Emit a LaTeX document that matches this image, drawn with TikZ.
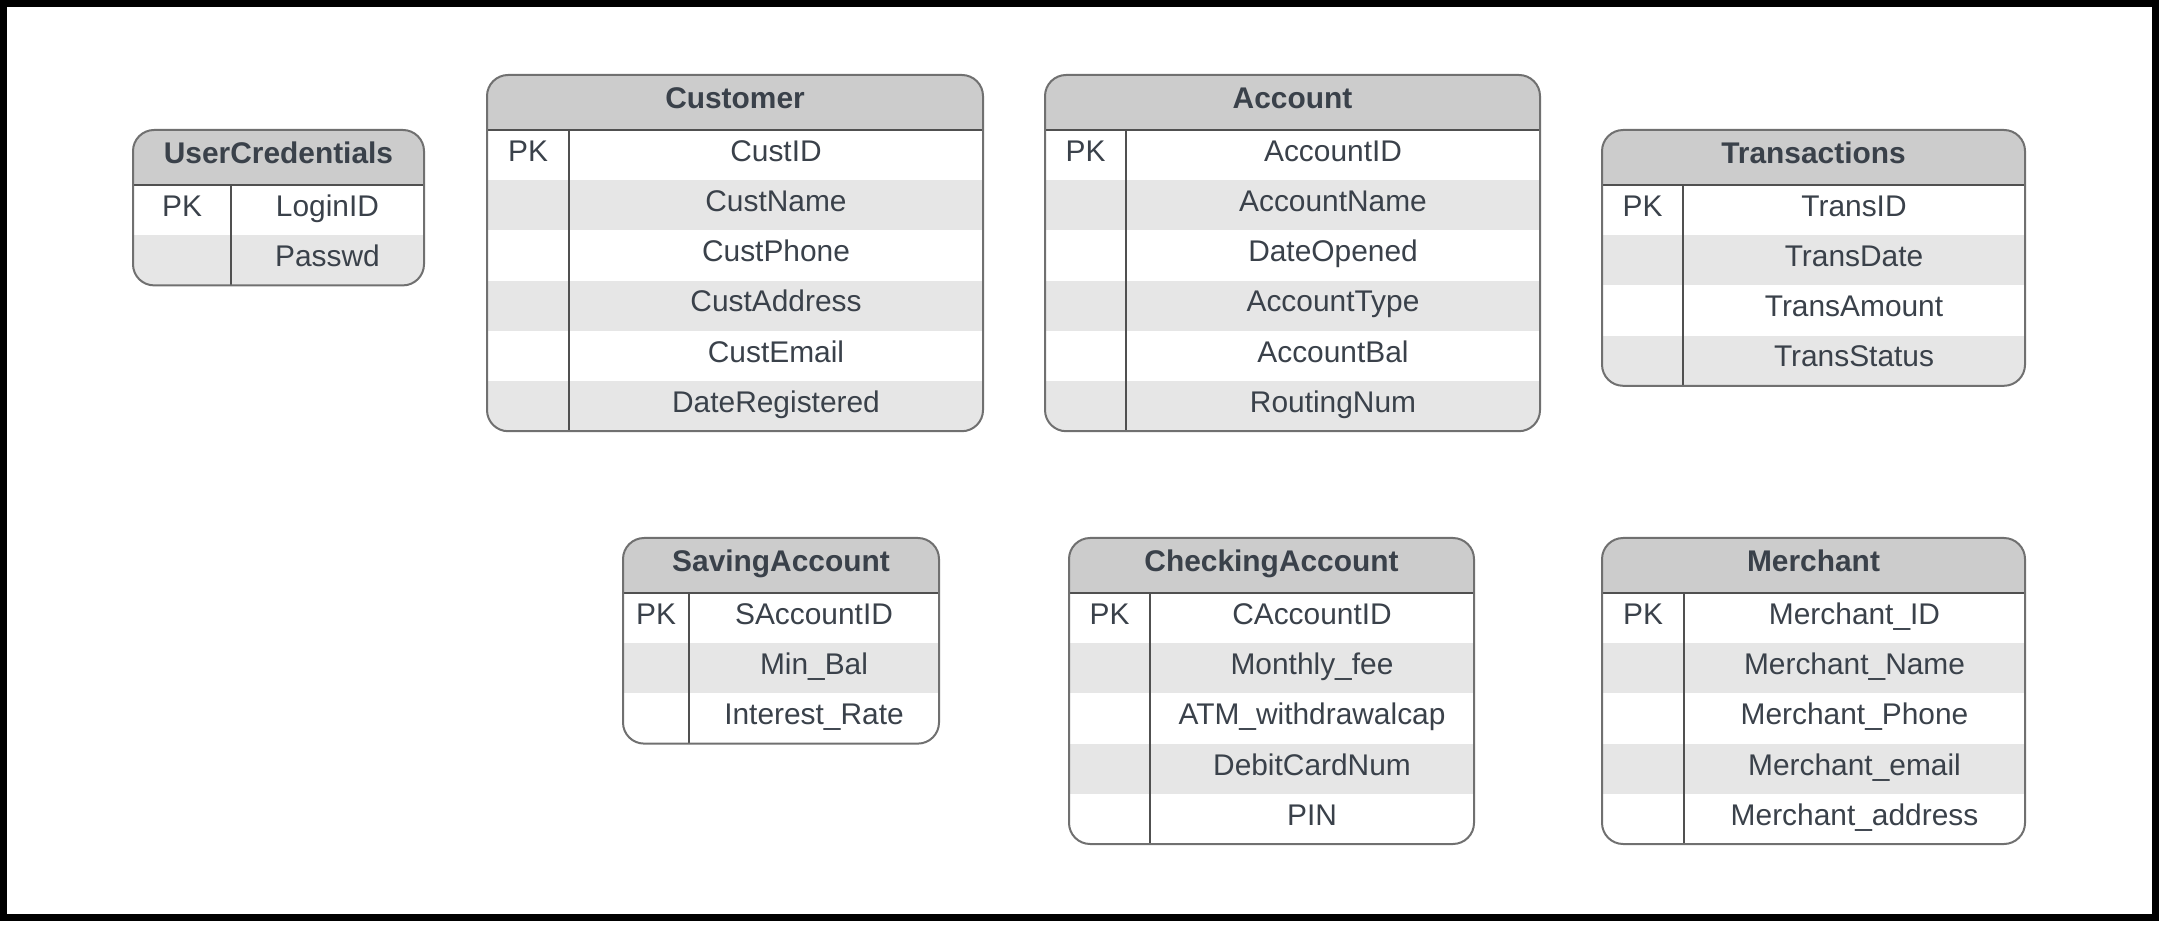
\documentclass[tikz,border=0pt]{standalone}
\usepackage{fontspec}
\setmainfont{Liberation Sans}
\usepackage{xcolor}
\usepackage{tikz}
\definecolor{headgray}{HTML}{CCCCCC}
\definecolor{bandgray}{HTML}{E6E6E6}
\definecolor{edge}{HTML}{707070}
\definecolor{rulegray}{HTML}{505050}
\definecolor{ink}{HTML}{3A414A}

\begin{document}
\begin{tikzpicture}[x=0.01cm, y=-0.01cm,
    every node/.style={anchor=base, inner sep=0pt, text=ink, font=\fontsize{8.5}{10}\selectfont},
    title/.style={font=\fontsize{8.5}{10}\selectfont\bfseries},
    head/.style={fill=headgray},
    band/.style={fill=bandgray},
    box/.style={draw=edge, line width=0.02cm, rounded corners=6},
    rule/.style={draw=rulegray, line width=0.015cm},
    frame/.style={draw=black, line width=0.07cm}]
    \useasboundingbox (0,0) rectangle (2167,925);
    \draw[frame] (3.5,3.5) rectangle (2155.5,917);

    % UserCredentials
    \begin{scope}
        \clip[rounded corners=6] (133,130) rectangle (424,285.4);
        \fill[head] (133,130) rectangle (424,185);
        \fill[band] (133,235.2) rectangle (424,285.4);
    \end{scope}
    \draw[rule] (133,185) -- (424,185) (231,185) -- (231,285.4);
    \draw[box] (133,130) rectangle (424,285.4);
    \node[title] (cred) at (278.5,163.8) {UserCredentials};
    \node (credpk) at (182,216.4) {PK};
    \node (login) at (327.5,216.4) {LoginID};
    \node (passwd) at (327.5,266.6) {Passwd};

    % Customer
    \begin{scope}
        \clip[rounded corners=6] (487,75) rectangle (983,431.2);
        \fill[head] (487,75) rectangle (983,130);
        \fill[band] (487,180.2) rectangle (983,230.4);
        \fill[band] (487,280.6) rectangle (983,330.8);
        \fill[band] (487,381) rectangle (983,431.2);
    \end{scope}
    \draw[rule] (487,130) -- (983,130) (569,130) -- (569,431.2);
    \draw[box] (487,75) rectangle (983,431.2);
    \node[title] (cust) at (735,108.8) {Customer};
    \node (custpk) at (528,161.4) {PK};
    \node (custid) at (776,161.4) {CustID};
    \node (custname) at (776,211.6) {CustName};
    \node (custphone) at (776,261.8) {CustPhone};
    \node (custaddr) at (776,312) {CustAddress};
    \node (custemail) at (776,362.2) {CustEmail};
    \node (custdate) at (776,412.4) {DateRegistered};

    % Account
    \begin{scope}
        \clip[rounded corners=6] (1045,75) rectangle (1540,431.2);
        \fill[head] (1045,75) rectangle (1540,130);
        \fill[band] (1045,180.2) rectangle (1540,230.4);
        \fill[band] (1045,280.6) rectangle (1540,330.8);
        \fill[band] (1045,381) rectangle (1540,431.2);
    \end{scope}
    \draw[rule] (1045,130) -- (1540,130) (1126,130) -- (1126,431.2);
    \draw[box] (1045,75) rectangle (1540,431.2);
    \node[title] (acct) at (1292.5,108.8) {Account};
    \node (acctpk) at (1085.5,161.4) {PK};
    \node (acctid) at (1333,161.4) {AccountID};
    \node (acctname) at (1333,211.6) {AccountName};
    \node (acctdate) at (1333,261.8) {DateOpened};
    \node (accttype) at (1333,312) {AccountType};
    \node (acctbal) at (1333,362.2) {AccountBal};
    \node (acctrout) at (1333,412.4) {RoutingNum};

    % Transactions
    \begin{scope}
        \clip[rounded corners=6] (1602,130) rectangle (2025,385.8);
        \fill[head] (1602,130) rectangle (2025,185);
        \fill[band] (1602,235.2) rectangle (2025,285.4);
        \fill[band] (1602,335.6) rectangle (2025,385.8);
    \end{scope}
    \draw[rule] (1602,185) -- (2025,185) (1683,185) -- (1683,385.8);
    \draw[box] (1602,130) rectangle (2025,385.8);
    \node[title] (trans) at (1813.5,163.8) {Transactions};
    \node (transpk) at (1642.5,216.4) {PK};
    \node (transid) at (1854,216.4) {TransID};
    \node (transdate) at (1854,266.6) {TransDate};
    \node (transamt) at (1854,316.8) {TransAmount};
    \node (transstat) at (1854,367) {TransStatus};

    % SavingAccount
    \begin{scope}
        \clip[rounded corners=6] (623,538) rectangle (939,743.6);
        \fill[head] (623,538) rectangle (939,593);
        \fill[band] (623,643.2) rectangle (939,693.4);
    \end{scope}
    \draw[rule] (623,593) -- (939,593) (689,593) -- (689,743.6);
    \draw[box] (623,538) rectangle (939,743.6);
    \node[title] (sav) at (781,571.8) {SavingAccount};
    \node (savpk) at (656,624.4) {PK};
    \node (savid) at (814,624.4) {SAccountID};
    \node (savmin) at (814,674.6) {Min\_Bal};
    \node (savrate) at (814,724.8) {Interest\_Rate};

    % CheckingAccount
    \begin{scope}
        \clip[rounded corners=6] (1069,538) rectangle (1474,844);
        \fill[head] (1069,538) rectangle (1474,593);
        \fill[band] (1069,643.2) rectangle (1474,693.4);
        \fill[band] (1069,743.6) rectangle (1474,793.8);
    \end{scope}
    \draw[rule] (1069,593) -- (1474,593) (1150,593) -- (1150,844);
    \draw[box] (1069,538) rectangle (1474,844);
    \node[title] (chk) at (1271.5,571.8) {CheckingAccount};
    \node (chkpk) at (1109.5,624.4) {PK};
    \node (chkid) at (1312,624.4) {CAccountID};
    \node (chkfee) at (1312,674.6) {Monthly\_fee};
    \node (chkatm) at (1312,724.8) {ATM\_withdrawalcap};
    \node (chkcard) at (1312,775) {DebitCardNum};
    \node (chkpin) at (1312,825.2) {PIN};

    % Merchant
    \begin{scope}
        \clip[rounded corners=6] (1602,538) rectangle (2025,844);
        \fill[head] (1602,538) rectangle (2025,593);
        \fill[band] (1602,643.2) rectangle (2025,693.4);
        \fill[band] (1602,743.6) rectangle (2025,793.8);
    \end{scope}
    \draw[rule] (1602,593) -- (2025,593) (1684,593) -- (1684,844);
    \draw[box] (1602,538) rectangle (2025,844);
    \node[title] (merch) at (1813.5,571.8) {Merchant};
    \node (merchpk) at (1643,624.4) {PK};
    \node (merchid) at (1854.5,624.4) {Merchant\_ID};
    \node (merchname) at (1854.5,674.6) {Merchant\_Name};
    \node (merchphone) at (1854.5,724.8) {Merchant\_Phone};
    \node (merchemail) at (1854.5,775) {Merchant\_email};
    \node (merchaddr) at (1854.5,825.2) {Merchant\_address};
\end{tikzpicture}
\end{document}
